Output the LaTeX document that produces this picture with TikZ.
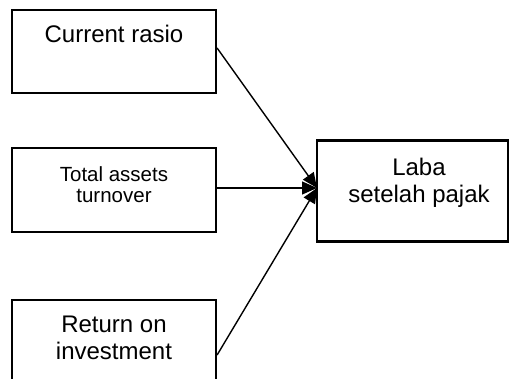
\documentclass[tikz,border=0pt]{standalone}
\usepackage{fontspec}
\setmainfont{Liberation Sans}
\usetikzlibrary{arrows.meta}

\begin{document}
\begin{tikzpicture}[x=1pt, y=-1pt, line width=2.2pt,
		box/.style={draw, rectangle, inner sep=0pt},
		txt/.style={align=center, inner sep=0pt, font=\fontsize{24}{27.5}\selectfont},
		link/.style={line width=1.4pt, -{Triangle[length=15pt, width=13pt]}}]
		\useasboundingbox (0, 0) rectangle (509, 379);
		\clip (0, 0) rectangle (509, 379);
		
		\node[box, minimum width=204, minimum height=83] (crbox) at (114, 51.5) {};
		\node[box, minimum width=204, minimum height=84] (tabox) at (114, 190) {};
		\node[box, minimum width=204, minimum height=110] (roibox) at (114, 355) {};
		\node[box, minimum width=191, minimum height=101] (lababox) at (412.5, 191) {};
		
		% base = baseline of the last line
		\node[txt, anchor=base] (cr) at (114, 43) {Current rasio};
		\node[txt, anchor=base, font=\fontsize{20.5}{21.5}\selectfont] (ta) at (114, 203) {Total assets\\turnover};
		\node[txt, anchor=base] (roi) at (114, 360) {Return on\\investment};
		\node[txt, anchor=base] (laba) at (419, 203) {Laba\\setelah pajak};
		
		\coordinate (tip) at (317, 188);
		\draw[link] (crbox.east |- 0, 48) -- (tip);
		\draw[link] (tabox.east |- tip) -- (tip);
		\draw[link] (roibox.east) -- (tip);
\end{tikzpicture}
\end{document}
